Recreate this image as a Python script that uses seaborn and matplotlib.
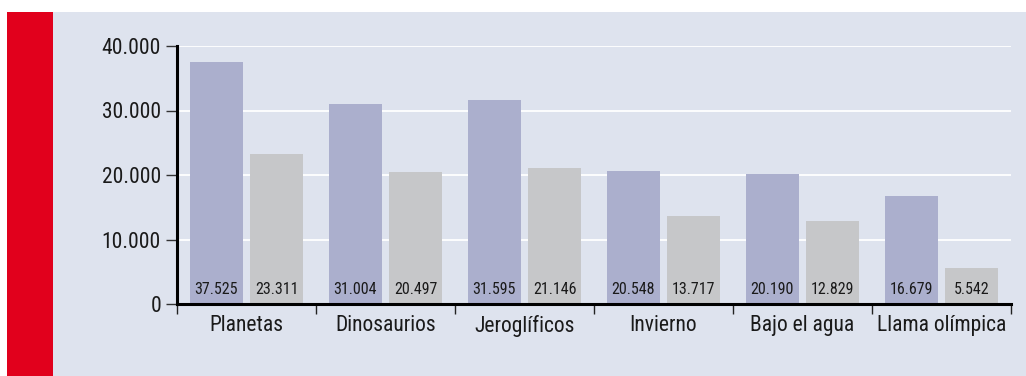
import matplotlib
matplotlib.use("Agg")
import matplotlib.pyplot as plt
from matplotlib.patches import Rectangle
from matplotlib.ticker import FixedLocator, FuncFormatter
import seaborn as sns
import pandas as pd

categories = ["Planetas", "Dinosaurios", "Jeroglíficos", "Invierno", "Bajo el agua", "Llama olímpica"]
serie_a = [37525, 31004, 31595, 20548, 20190, 16679]
serie_b = [23311, 20497, 21146, 13717, 12829, 5542]
y_ticks = [0, 10000, 20000, 30000, 40000]

PANEL = "#dee3ee"
RED = "#e1001c"
BLUE = "#abafcd"
GRAY = "#c6c7c9"
TXT = "#1a1a1a"

sns.set_theme(style="white")
plt.rcParams["font.family"] = ["Roboto Condensed", "DejaVu Sans"]

df = pd.DataFrame({
    "cat": categories * 2,
    "serie": ["A"] * len(categories) + ["B"] * len(categories),
    "valor": serie_a + serie_b,
})

fig = plt.figure(figsize=(10.26, 3.76), dpi=100, facecolor="white")
fig.patches.append(Rectangle((7 / 1026, 0), 1 - 7 / 1026, (376 - 12) / 376,
                             transform=fig.transFigure, facecolor=PANEL, edgecolor="none", zorder=-10))
fig.patches.append(Rectangle((7 / 1026, 0), 46 / 1026, (376 - 12) / 376,
                             transform=fig.transFigure, facecolor=RED, edgecolor="none", zorder=-9))

ax = fig.add_axes([177 / 1026, 1 - 304 / 376, (1011 - 177) / 1026, (304 - 46) / 376])
ax.set_facecolor(PANEL)

sns.barplot(data=df, x="cat", y="valor", hue="serie", palette={"A": BLUE, "B": GRAY},
            width=0.87, gap=0.124, saturation=1, legend=False, ax=ax, zorder=2,
            edgecolor="none", linewidth=0, errorbar=None)

for cont, vals in zip(ax.containers, [serie_a, serie_b]):
    for bar, v in zip(cont, vals):
        ax.annotate(f"{v:,}".replace(",", "."), (bar.get_x() + bar.get_width() / 2, 0),
                    xytext=(0, 7.2), textcoords="offset points", ha="center", va="baseline",
                    fontsize=11.5, color=TXT, zorder=4)

ax.set_xlim(-0.5, len(categories) - 0.5)
ax.set_ylim(0, 40000)
ax.yaxis.set_major_locator(FixedLocator(y_ticks))
ax.yaxis.set_major_formatter(FuncFormatter(lambda v, p: f"{int(v):,}".replace(",", ".")))
ax.grid(axis="y", color="white", linewidth=1.3, zorder=1)
ax.set_axisbelow(True)
ax.set_xlabel("")
ax.set_ylabel("")

ax.set_xticks(range(len(categories)))
ax.set_xticklabels(categories)
ax.set_xticks([i - 0.5 for i in range(len(categories) + 1)], minor=True)
ax.tick_params(axis="x", which="major", length=0, pad=8, labelsize=15.5, labelcolor=TXT)
ax.tick_params(axis="x", which="minor", length=7.5, width=1, color="#222222", direction="out", bottom=True)
ax.tick_params(axis="y", which="major", length=8, width=1, color="#333333", direction="out",
               pad=3.5, labelsize=15.5, labelcolor=TXT, left=True)

for s in ["top", "right"]:
    ax.spines[s].set_visible(False)
for s in ["left", "bottom"]:
    ax.spines[s].set_color("black")
    ax.spines[s].set_linewidth(2.2)
    ax.spines[s].set_zorder(5)

fig.savefig("out.png", dpi=100, facecolor="white")
